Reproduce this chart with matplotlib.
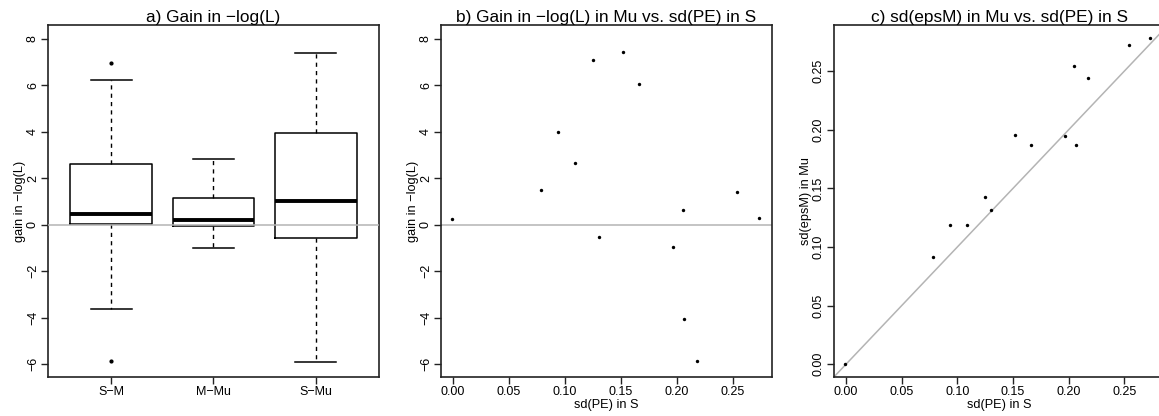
import matplotlib
matplotlib.use("Agg")
import matplotlib.pyplot as plt

plt.rcParams["font.family"] = ["Liberation Sans", "DejaVu Sans"]

# panel a: box summaries
groups = ["S−M", "M−Mu", "S−Mu"]
whisk_lo = [-3.65, -1.0, -5.9]
q1 = [0.03, -0.07, -0.57]
medians = [0.45, 0.2, 1.02]
q3 = [2.6, 1.17, 3.97]
whisk_hi = [6.25, 2.85, 7.4]
outliers = [[6.95, -5.85], [], []]

# panels b, c: one point per case
sd_pe = [-0.001, 0.0785, 0.0935, 0.109, 0.1248, 0.1302, 0.152,
         0.166, 0.1966, 0.205, 0.2065, 0.2177, 0.254, 0.2733]
gain_mu = [0.26, 1.51, 3.98, 2.67, 7.10, -0.54, 7.43,
           6.08, -0.96, 0.65, -4.06, -5.87, 1.40, 0.27]
sd_epsm = [0.0, 0.0917, 0.1191, 0.1191, 0.1423, 0.1317, 0.1957,
           0.1874, 0.1943, 0.2546, 0.1866, 0.2446, 0.2723, 0.278]
sd_ticks = [0, 0.05, 0.1, 0.15, 0.2, 0.25]
sd_ticklabels = ["0.00", "0.05", "0.10", "0.15", "0.20", "0.25"]

W, H = 1159, 416
fig = plt.figure(figsize=(W / 100, H / 100), dpi=100)


def px_axes(x0, x1, y0, y1):
    return fig.add_axes([x0 / W, (H - y1) / H, (x1 - x0) / W, (y1 - y0) / H])


ax_a = px_axes(48, 379, 25, 377)
ax_b = px_axes(441, 772, 25, 377)
ax_c = px_axes(834, 1165, 25, 377)

edge = "#222222"
grey = "#b4b4b4"
tick_fs = 9
lab_fs = 9.2
title_fs = 12.4

for ax in (ax_a, ax_b, ax_c):
    for s in ax.spines.values():
        s.set_color(edge)
        s.set_linewidth(1.2)
    ax.tick_params(direction="out", length=5, width=1.0, color=edge,
                   labelsize=tick_fs, pad=1.5)

# a) boxplot
stats = []
for i, g in enumerate(groups):
    stats.append(dict(label=g, med=medians[i], q1=q1[i], q3=q3[i],
                      whislo=whisk_lo[i], whishi=whisk_hi[i], fliers=outliers[i]))
ax_a.axhline(0, color=grey, lw=1.1, zorder=3)
ax_a.bxp(stats, positions=[1, 2, 3], widths=0.8, patch_artist=False,
         boxprops=dict(color="black", lw=1.1),
         medianprops=dict(color="black", lw=2.8, solid_capstyle="butt"),
         whiskerprops=dict(color="black", lw=1.0, linestyle=(0, (3, 3))),
         capprops=dict(color="black", lw=1.1),
         capwidths=0.4,
         flierprops=dict(marker="o", markersize=2.0, markerfacecolor="black",
                         markeredgecolor="black"))
ax_a.set_xlim(0.38, 3.62)
ax_a.set_ylim(-6.56, 8.6)
ax_a.set_yticks(range(-6, 9, 2))
ax_a.set_ylabel("gain in −log(L)", fontsize=lab_fs, labelpad=1)
ax_a.set_title("a) Gain in −log(L)", fontsize=title_fs, pad=1.5)

# b) gain vs sd(PE)
ax_b.axhline(0, color=grey, lw=1.1, zorder=1)
ax_b.scatter(sd_pe, gain_mu, s=6, color="black", zorder=3, linewidths=0)
ax_b.set_xlim(-0.0104, 0.2848)
ax_b.set_ylim(-6.56, 8.6)
ax_b.set_yticks(range(-6, 9, 2))
ax_b.set_xticks(sd_ticks)
ax_b.set_xticklabels(sd_ticklabels)
ax_b.set_xlabel("sd(PE) in S", fontsize=lab_fs, labelpad=0.5)
ax_b.set_ylabel("gain in −log(L)", fontsize=lab_fs, labelpad=1)
ax_b.set_title("b) Gain in −log(L) in Mu vs. sd(PE) in S", fontsize=title_fs, pad=1.5)

# c) sd(epsM) vs sd(PE)
ax_c.axline((0, 0), slope=1, color=grey, lw=1.1, zorder=1)
ax_c.scatter(sd_pe, sd_epsm, s=6, color="black", zorder=3, linewidths=0)
ax_c.set_xlim(-0.0108, 0.2866)
ax_c.set_ylim(-0.0109, 0.2894)
ax_c.set_xticks(sd_ticks)
ax_c.set_xticklabels(sd_ticklabels)
ax_c.set_yticks(sd_ticks)
ax_c.set_yticklabels(sd_ticklabels)
ax_c.set_xlabel("sd(PE) in S", fontsize=lab_fs, labelpad=0.5)
ax_c.set_ylabel("sd(epsM) in Mu", fontsize=lab_fs, labelpad=1)
ax_c.set_title("c) sd(epsM) in Mu vs. sd(PE) in S", fontsize=title_fs, pad=1.5)

for ax in (ax_a, ax_b, ax_c):
    for lab in ax.get_yticklabels():
        lab.set_rotation(90)
        lab.set_va("center")

fig.savefig("out.png", dpi=100)
